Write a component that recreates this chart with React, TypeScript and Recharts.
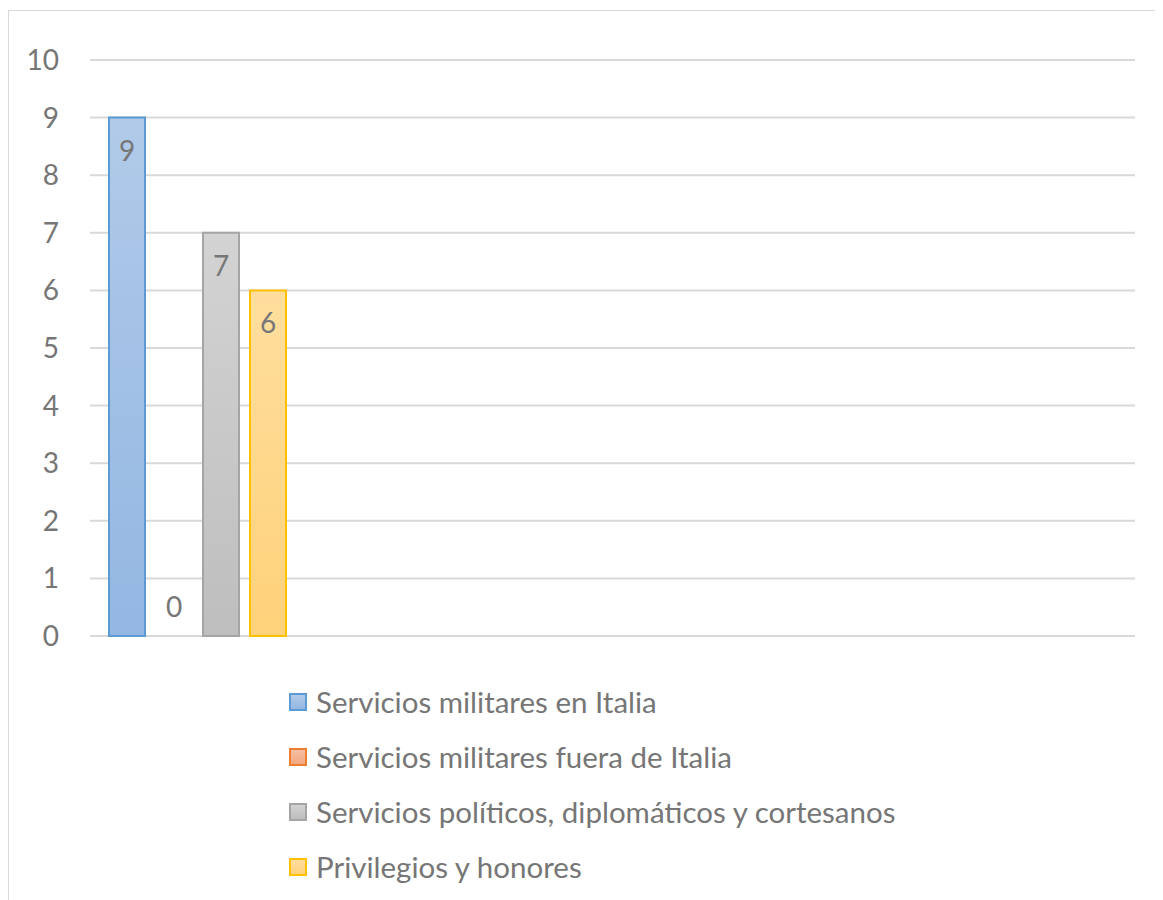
import React from 'react';
import { BarChart, Bar, XAxis, YAxis, CartesianGrid, Legend, Rectangle } from 'recharts';

const categories = ['c1', 'c2', 'c3', 'c4', 'c5'];
const seriesKeys = ['militaresItalia', 'militaresFuera', 'politicos', 'privilegios'];
const seriesNames = [
  'Servicios militares en Italia',
  'Servicios militares fuera de Italia',
  'Servicios políticos, diplomáticos y cortesanos',
  'Privilegios y honores',
];
const militaresItalia = [9, null, null, null, null];
const militaresFuera = [0, null, null, null, null];
const politicos = [7, null, null, null, null];
const privilegios = [6, null, null, null, null];
const yTicks = [0, 1, 2, 3, 4, 5, 6, 7, 8, 9, 10];

const strokeColors = ['#5B9BD5', '#ED7D31', '#A5A5A5', '#FFC000'];
const gradTop = ['#B1CAE9', '#F6BFA3', '#D3D3D3', '#FFDE9E'];
const gradBottom = ['#93B7E2', '#F3A77F', '#BEBEBE', '#FFD27A'];

const seriesValues = [militaresItalia, militaresFuera, politicos, privilegios];
const data = categories.map((c, i) => {
  const row: any = { name: c };
  seriesKeys.forEach((k, s) => {
    row[k] = seriesValues[s][i];
  });
  return row;
});

const FONT = 'Lato, "Open Sans", sans-serif';
const TEXT = '#767676';

const renderLabel = (props: any) => {
  const { x, y, width, height, value } = props;
  if (value === null || value === undefined) return null;
  const cx = Number(x) + Number(width) / 2;
  const h = Number(height) || 0;
  const cy = Number(value) === 0 ? Number(y) + h - 30 : Number(y) + 32;
  return (
    <text x={cx} y={cy} textAnchor="middle" dominantBaseline="central" fill={TEXT} fontSize={28} fontFamily={FONT}>
      {value}
    </text>
  );
};

const makeShape = (key: string) => (props: any) => {
  const v = props.payload ? props.payload[key] : undefined;
  if (v === null || v === undefined || Number(v) === 0) return <g />;
  return <Rectangle {...props} />;
};

const renderLegend = () => (
  <div style={{ fontFamily: FONT, fontSize: 29.5, color: TEXT }}>
    {seriesNames.map((n, i) => (
      <div key={n} style={{ display: 'flex', alignItems: 'center', height: 55 }}>
        <span
          style={{
            display: 'inline-block',
            boxSizing: 'border-box',
            width: 18,
            height: 18,
            border: `2px solid ${strokeColors[i]}`,
            background: `linear-gradient(${gradTop[i]}, ${gradBottom[i]})`,
            marginRight: 9,
          }}
        />
        <span>{n}</span>
      </div>
    ))}
  </div>
);

export default function App() {
  return (
    <div style={{ width: 1155, height: 892, overflow: 'hidden', fontFamily: FONT }}>
      <div
        style={{
          marginTop: 2,
          width: 1200,
          height: 950,
          border: '1px solid #D9D9D9',
          position: 'relative',
          background: '#fff',
        }}
      >
        <BarChart
          width={1150}
          height={880}
          data={data}
          margin={{ top: 49, right: 24, bottom: 255, left: 0 }}
          barSize={36}
          barGap={11}
        >
          <defs>
            {seriesKeys.map((k, i) => (
              <linearGradient key={k} id={`g-${k}`} x1="0" y1="0" x2="0" y2="1">
                <stop offset="0%" stopColor={gradTop[i]} />
                <stop offset="100%" stopColor={gradBottom[i]} />
              </linearGradient>
            ))}
          </defs>
          <CartesianGrid vertical={false} stroke="#D9D9D9" strokeWidth={2} />
          <XAxis dataKey="name" hide padding={{ left: 3, right: 0 }} />
          <YAxis
            domain={[0, 10]}
            ticks={yTicks}
            interval={0}
            width={81}
            axisLine={false}
            tickLine={false}
            tickSize={0}
            tickMargin={31}
            tick={{ fill: TEXT, fontSize: 28, fontFamily: FONT }}
          />
          <Legend
            layout="horizontal"
            verticalAlign="middle"
            align="center"
            content={renderLegend}
            wrapperStyle={{ left: 280, top: 663, width: 750 }}
          />
          {seriesKeys.map((k, i) => (
            <Bar
              key={k}
              dataKey={k}
              name={seriesNames[i]}
              fill={`url(#g-${k})`}
              stroke={strokeColors[i]}
              strokeWidth={2}
              minPointSize={1}
              shape={makeShape(k)}
              isAnimationActive={false}
              label={renderLabel}
            />
          ))}
        </BarChart>
      </div>
    </div>
  );
}
